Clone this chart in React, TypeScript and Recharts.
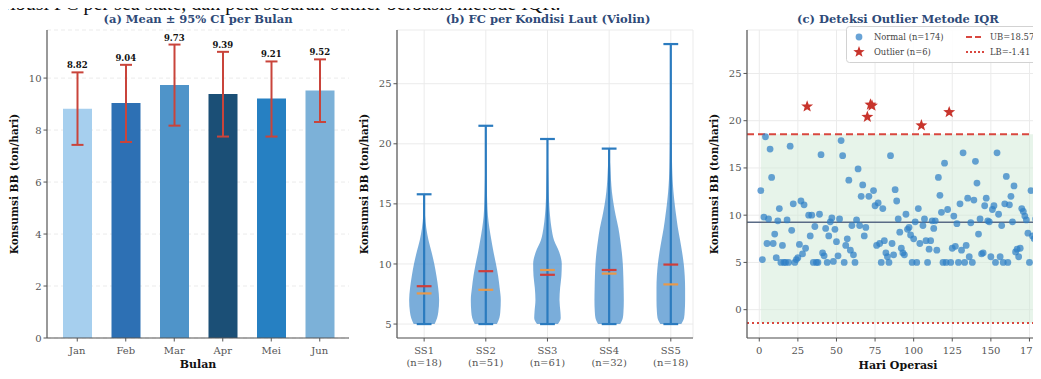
import {
  BarChart,
  Bar,
  Cell,
  ErrorBar,
  ReferenceDot,
  ComposedChart,
  Area,
  ScatterChart,
  Scatter,
  XAxis,
  YAxis,
  CartesianGrid,
  ReferenceLine,
  ReferenceArea,
  Legend,
} from 'recharts'

const SERIF = '"DejaVu Serif", serif'
const TICK = { fill: '#555', fontSize: 10, fontFamily: SERIF }
const AXIS_LINE = { stroke: '#555', strokeWidth: 1.2 }
const TICK_LINE = { stroke: '#555' }
const GRID = '#ebebeb'

// (a) monthly mean FC with 95% CI
const months = ['Jan', 'Feb', 'Mar', 'Apr', 'Mei', 'Jun']
const monthMean = [8.82, 9.04, 9.73, 9.39, 9.21, 9.52]
const monthCiLow = [7.43, 7.54, 8.17, 7.75, 7.75, 8.31]
const monthCiHigh = [10.22, 10.51, 11.29, 11.01, 10.64, 10.72]
const monthColors = ['#a6cfee', '#2d70b4', '#4f94c9', '#1b4f76', '#2680c2', '#7cb1d8']

// (b) FC distribution per sea state
const seaStates = ['SS1', 'SS2', 'SS3', 'SS4', 'SS5']
const seaCounts = [18, 51, 61, 32, 18]
const ssMin = [5, 5, 5, 5, 5]
const ssMax = [15.8, 21.5, 20.4, 19.6, 28.3]
const ssMean = [8.15, 9.4, 9.1, 9.5, 9.95]
const ssMedian = [7.55, 7.85, 9.5, 9.2, 8.3]
// KDE half-widths (in category units) evaluated at these FC levels
const kdeLevels = [5, 5.5, 6, 7, 8, 9, 10, 11, 12, 13, 14, 15, 16, 17, 18, 19, 20, 21, 22, 24, 26, 28.3]
const ss1Kde = [0.17, 0.21, 0.23, 0.243, 0.228, 0.2, 0.165, 0.12, 0.07, 0.035, 0.015, 0.006, 0, 0, 0, 0, 0, 0, 0, 0, 0, 0]
const ss2Kde = [0.18, 0.22, 0.235, 0.243, 0.225, 0.2, 0.165, 0.125, 0.09, 0.058, 0.035, 0.024, 0.018, 0.014, 0.011, 0.009, 0.006, 0.003, 0, 0, 0, 0]
const ss3Kde = [0.17, 0.215, 0.21, 0.195, 0.205, 0.226, 0.232, 0.19, 0.105, 0.065, 0.042, 0.028, 0.02, 0.015, 0.01, 0.007, 0.003, 0, 0, 0, 0, 0]
const ss4Kde = [0.18, 0.222, 0.232, 0.238, 0.235, 0.23, 0.222, 0.205, 0.18, 0.15, 0.108, 0.072, 0.045, 0.03, 0.02, 0.008, 0, 0, 0, 0, 0, 0]
const ss5Kde = [0.17, 0.215, 0.225, 0.232, 0.232, 0.226, 0.21, 0.183, 0.15, 0.115, 0.088, 0.063, 0.043, 0.03, 0.022, 0.018, 0.015, 0.014, 0.012, 0.01, 0.007, 0]
const ssKde = [ss1Kde, ss2Kde, ss3Kde, ss4Kde, ss5Kde]

// (c) daily FC (ton/hari), day 1..180
const dailyFC = [
  12.6, 5.3, 9.8, 18.3, 7.0, 9.6, 17.0, 14.0, 7.0, 8.0,
  5.5, 9.4, 10.7, 5.0, 6.8, 5.0, 5.0, 9.5, 5.0, 17.3,
  8.4, 11.2, 5.0, 5.3, 5.5, 6.9, 11.5, 5.9, 11.1, 6.5,
  21.5, 10.0, 7.8, 10.0, 5.0, 8.8, 5.0, 5.0, 10.1, 16.4,
  6.0, 5.7, 8.6, 5.0, 7.8, 9.3, 9.7, 5.1, 8.5, 7.2,
  5.7, 9.6, 17.9, 16.3, 5.0, 6.8, 7.5, 13.7, 6.3, 8.9,
  5.8, 5.0, 9.5, 14.9, 8.9, 12.0, 13.2, 7.8, 8.7, 20.4,
  12.0, 21.7, 21.6, 12.6, 11.0, 6.8, 11.3, 7.0, 5.0, 10.7,
  7.3, 6.0, 5.6, 5.0, 16.3, 7.0, 5.8, 12.7, 11.5, 9.6,
  8.2, 6.5, 6.0, 5.8, 10.1, 8.5, 8.7, 7.9, 5.0, 7.5,
  9.3, 5.0, 10.7, 7.0, 19.5, 8.9, 9.6, 7.3, 5.0, 6.4,
  7.3, 9.4, 8.6, 9.4, 6.3, 14.0, 12.1, 10.3, 5.0, 15.5,
  5.0, 10.6, 20.9, 5.0, 6.5, 9.9, 6.7, 9.1, 5.0, 11.2,
  6.3, 16.6, 5.0, 6.8, 11.8, 5.6, 9.2, 5.0, 11.6, 15.7,
  13.4, 8.0, 9.6, 5.9, 6.0, 11.0, 11.8, 9.4, 9.3, 5.6,
  10.6, 11.0, 5.0, 16.6, 10.1, 5.6, 8.9, 5.0, 11.2, 14.1,
  5.0, 11.1, 12.0, 9.3, 13.1, 6.1, 6.4, 5.6, 6.5, 10.7,
  10.4, 9.9, 9.5, 8.1, 5.0, 12.6, 7.8, 7.5, 9.6, 18.5,
]
const UB = 18.57
const LB = -1.41

const monthRows = months.map((m, i) => ({
  month: m,
  mean: monthMean[i],
  ci: [monthMean[i] - monthCiLow[i], monthCiHigh[i] - monthMean[i]],
}))

const violinRows = kdeLevels.map((y, j) => {
  const row: Record<string, any> = { y }
  ssKde.forEach((kde, i) => {
    row[`ss${i + 1}`] = [i + 1 - kde[j], i + 1 + kde[j]]
  })
  return row
})

const dayPoints = dailyFC.map((fc, i) => ({ day: i + 1, fc }))
const normalPoints = dayPoints.filter((p) => p.fc <= UB)
const outlierPoints = dayPoints.filter((p) => p.fc > UB)
const fcMean = dailyFC.reduce((s, v) => s + v, 0) / dailyFC.length

const SeaTick = (props: any) => {
  const { x, y, payload } = props
  const i = payload.value - 1
  return (
    <g transform={`translate(${x},${y})`}>
      <text textAnchor="middle" fill="#555" fontSize={10} fontFamily={SERIF}>
        <tspan x={0} dy={10}>{seaStates[i]}</tspan>
        <tspan x={0} dy={12.5}>(n={seaCounts[i]})</tspan>
      </text>
    </g>
  )
}

const NormalDot = (props: any) => (
  <circle cx={props.cx} cy={props.cy} r={3.4} fill="#2f7fc6" fillOpacity={0.72} />
)

const starPoints = (cx: number, cy: number, outer: number, inner: number) => {
  const pts: string[] = []
  for (let k = 0; k < 10; k++) {
    const r = k % 2 === 0 ? outer : inner
    const a = -Math.PI / 2 + (k * Math.PI) / 5
    pts.push(`${cx + r * Math.cos(a)},${cy + r * Math.sin(a)}`)
  }
  return pts.join(' ')
}

const OutlierStar = (props: any) => (
  <polygon points={starPoints(props.cx, props.cy, 6.3, 2.6)} fill="#c8342c" />
)

const OutlierLegend = () => (
  <svg width={210} height={37} style={{ display: 'block' }}>
    <rect x={0.5} y={0.5} width={209} height={36} rx={3} fill="#fff" fillOpacity={0.85} stroke="#d2d2d2" />
    <g fontFamily={SERIF} fontSize={8.4} fill="#444">
      <circle cx={13} cy={11} r={3.4} fill="#2f7fc6" fillOpacity={0.72} />
      <text x={28} y={14}>Normal (n=174)</text>
      <polygon points={starPoints(13, 26, 6, 2.5)} fill="#c8342c" />
      <text x={28} y={29}>Outlier (n=6)</text>
      <line x1={120} y1={11} x2={138} y2={11} stroke="#d9473f" strokeWidth={2} strokeDasharray="6 3" />
      <text x={144} y={14}>UB={UB}</text>
      <line x1={120} y1={26} x2={138} y2={26} stroke="#d9473f" strokeWidth={2} strokeDasharray="2 2" />
      <text x={144} y={29}>LB={LB}</text>
    </g>
  </svg>
)

function MonthlyBars() {
  return (
    <BarChart width={350} height={379} data={monthRows} margin={{ top: 30, right: 1, bottom: 11, left: 0 }}>
      <CartesianGrid vertical={false} stroke={GRID} strokeDasharray="4 3" />
      <XAxis
        dataKey="month"
        padding={{ left: 6, right: 5 }}
        height={30}
        tick={TICK}
        tickSize={3.5}
        tickMargin={5}
        axisLine={AXIS_LINE}
        tickLine={TICK_LINE}
      />
      <YAxis
        type="number"
        domain={[0, 11.85]}
        ticks={[0, 2, 4, 6, 8, 10]}
        width={47}
        tick={TICK}
        tickSize={3.5}
        axisLine={AXIS_LINE}
        tickLine={TICK_LINE}
        allowDataOverflow
      />
      <Bar dataKey="mean" barSize={29} isAnimationActive={false}>
        {monthRows.map((r, i) => (
          <Cell key={r.month} fill={monthColors[i]} />
        ))}
        <ErrorBar dataKey="ci" stroke="#c9443b" strokeWidth={2} width={6} isAnimationActive={false} />
      </Bar>
      {monthRows.map((r, i) => (
        <ReferenceDot
          key={r.month}
          x={r.month}
          y={monthCiHigh[i]}
          r={0}
          stroke="none"
          label={{
            value: monthMean[i].toFixed(2),
            position: 'top',
            offset: 4,
            fill: '#111',
            fontSize: 8.5,
            fontWeight: 'bold',
            fontFamily: SERIF,
          }}
        />
      ))}
    </BarChart>
  )
}

function SeaStateViolins() {
  return (
    <ComposedChart
      layout="vertical"
      width={350}
      height={379}
      data={violinRows}
      margin={{ top: 30, right: 7, bottom: 11, left: 0 }}
    >
      <CartesianGrid stroke={GRID} />
      <XAxis
        type="number"
        domain={[0.56, 5.36]}
        ticks={[1, 2, 3, 4, 5]}
        height={30}
        tick={<SeaTick />}
        tickSize={3.5}
        axisLine={AXIS_LINE}
        tickLine={TICK_LINE}
        allowDataOverflow
      />
      <YAxis
        type="number"
        dataKey="y"
        domain={[3.84, 29.47]}
        ticks={[5, 10, 15, 20, 25]}
        width={47}
        reversed
        tick={TICK}
        tickSize={3.5}
        axisLine={AXIS_LINE}
        tickLine={TICK_LINE}
        allowDataOverflow
      />
      {seaStates.map((s, i) => (
        <Area
          key={s}
          dataKey={`ss${i + 1}`}
          type="monotone"
          stroke="none"
          fill="#3b86c8"
          fillOpacity={0.68}
          dot={false}
          activeDot={false}
          isAnimationActive={false}
        />
      ))}
      {seaStates.map((s, i) => {
        const p = i + 1
        const cap = 0.12
        return [
          <ReferenceLine key={`${s}-w`} segment={[{ x: p, y: ssMin[i] }, { x: p, y: ssMax[i] }]} stroke="#2b7bbf" strokeWidth={2.2} />,
          <ReferenceLine key={`${s}-t`} segment={[{ x: p - cap, y: ssMax[i] }, { x: p + cap, y: ssMax[i] }]} stroke="#2b7bbf" strokeWidth={2.2} />,
          <ReferenceLine key={`${s}-b`} segment={[{ x: p - cap, y: ssMin[i] }, { x: p + cap, y: ssMin[i] }]} stroke="#2b7bbf" strokeWidth={2.2} />,
          <ReferenceLine key={`${s}-mean`} segment={[{ x: p - cap, y: ssMean[i] }, { x: p + cap, y: ssMean[i] }]} stroke="#cf3d3a" strokeWidth={2.2} />,
          <ReferenceLine key={`${s}-med`} segment={[{ x: p - cap, y: ssMedian[i] }, { x: p + cap, y: ssMedian[i] }]} stroke="#e8994a" strokeWidth={2.2} />,
        ]
      })}
    </ComposedChart>
  )
}

function OutlierScatter() {
  return (
    <ScatterChart width={356} height={379} margin={{ top: 30, right: 5, bottom: 11, left: 0 }}>
      <CartesianGrid stroke={GRID} />
      <XAxis
        type="number"
        dataKey="day"
        domain={[-7.95, 188.95]}
        ticks={[0, 25, 50, 75, 100, 125, 150, 175]}
        height={30}
        tick={TICK}
        tickSize={3.5}
        tickMargin={5}
        axisLine={AXIS_LINE}
        tickLine={TICK_LINE}
        allowDataOverflow
      />
      <YAxis
        type="number"
        dataKey="fc"
        domain={[-3, 29.6]}
        ticks={[0, 5, 10, 15, 20, 25]}
        width={47}
        tick={TICK}
        tickSize={3.5}
        axisLine={AXIS_LINE}
        tickLine={TICK_LINE}
        allowDataOverflow
      />
      <ReferenceArea x1={1} x2={180} y1={LB} y2={UB} fill="#cfe9d6" fillOpacity={0.5} stroke="none" />
      <ReferenceLine y={fcMean} stroke="#5a6b86" strokeWidth={1.5} />
      <Scatter data={normalPoints} shape={<NormalDot />} isAnimationActive={false} />
      <Scatter data={outlierPoints} shape={<OutlierStar />} isAnimationActive={false} />
      <ReferenceLine y={UB} stroke="#d9473f" strokeWidth={2} strokeDasharray="7 4" />
      <ReferenceLine y={LB} stroke="#d9473f" strokeWidth={2} strokeDasharray="2 3" />
      <Legend
        layout="horizontal"
        verticalAlign="middle"
        align="center"
        content={<OutlierLegend />}
        wrapperStyle={{ top: 26, left: 146, width: 210, height: 37 }}
      />
    </ScatterChart>
  )
}

const titleStyle = { fontFamily: SERIF, fontSize: 11.5, fontWeight: 'bold', fill: '#2e4a78' } as const
const axisTitle = { fontFamily: SERIF, fontSize: 10.5, fontWeight: 'bold', fill: '#111' } as const

export default function App() {
  return (
    <div style={{ position: 'relative', width: 1041, height: 379, margin: -8, overflow: 'hidden', background: '#fff' }}>
      <div style={{ position: 'absolute', left: 0, top: 0 }}>
        <MonthlyBars />
      </div>
      <div style={{ position: 'absolute', left: 350, top: 0 }}>
        <SeaStateViolins />
      </div>
      <div style={{ position: 'absolute', left: 700, top: 0 }}>
        <OutlierScatter />
      </div>
      <svg width={1041} height={379} style={{ position: 'absolute', left: 0, top: 0, pointerEvents: 'none' }}>
        <text x={-2} y={9.5} fontFamily='"Liberation Serif", serif' fontSize={20} fill="#111">
          tribusi FC per sea state, dan peta sebaran outlier berbasis metode IQR.
        </text>
        <text x={198} y={22.5} textAnchor="middle" {...titleStyle}>(a) Mean ± 95% CI per Bulan</text>
        <text x={548} y={22.5} textAnchor="middle" {...titleStyle}>(b) FC per Kondisi Laut (Violin)</text>
        <text x={898} y={22.5} textAnchor="middle" {...titleStyle}>(c) Deteksi Outlier Metode IQR</text>
        {[14, 364, 714].map((x) => (
          <text key={x} x={x} y={184} dy="0.35em" textAnchor="middle" transform={`rotate(-90 ${x} 184)`} {...axisTitle}>
            Konsumsi BB (ton/hari)
          </text>
        ))}
        <text x={198} y={368} textAnchor="middle" {...axisTitle} fontSize={11}>Bulan</text>
        <text x={548} y={379} textAnchor="middle" {...axisTitle} fontSize={11}>Sea State</text>
        <text x={898} y={369} textAnchor="middle" {...axisTitle} fontSize={11}>Hari Operasi</text>
      </svg>
    </div>
  )
}
